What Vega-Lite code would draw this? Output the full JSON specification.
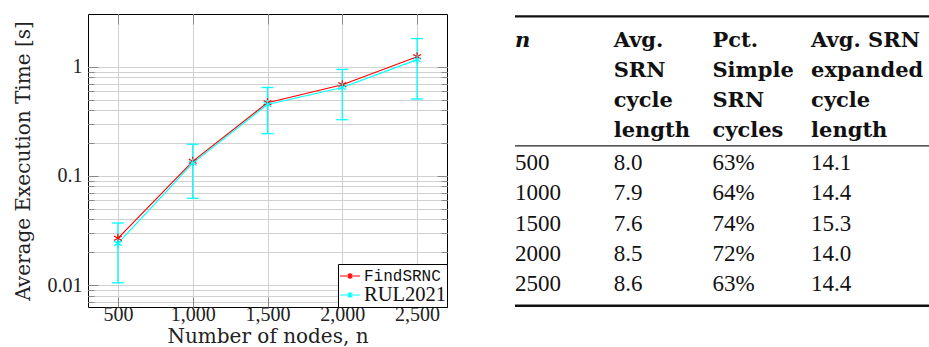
{
  "$schema": "https://vega.github.io/schema/vega-lite/v6.json",
  "background": "white",
  "padding": {"left": 12, "top": 13, "right": 0, "bottom": 2},
  "spacing": 65,
  "resolve": {"legend": {"color": "independent"}},
  "datasets": {
    "perf": [
      {"n": 500, "method": "FindSRNC", "time": 0.0268},
      {"n": 1000, "method": "FindSRNC", "time": 0.136},
      {"n": 1500, "method": "FindSRNC", "time": 0.468},
      {"n": 2000, "method": "FindSRNC", "time": 0.684},
      {"n": 2500, "method": "FindSRNC", "time": 1.235},
      {"n": 500, "method": "RUL2021", "time": 0.0241},
      {"n": 1000, "method": "RUL2021", "time": 0.131},
      {"n": 1500, "method": "RUL2021", "time": 0.451},
      {"n": 2000, "method": "RUL2021", "time": 0.645},
      {"n": 2500, "method": "RUL2021", "time": 1.16}
    ],
    "err": [
      {"n": 500, "lo": 0.0105, "hi": 0.037},
      {"n": 1000, "lo": 0.0624, "hi": 0.195},
      {"n": 1500, "lo": 0.244, "hi": 0.645},
      {"n": 2000, "lo": 0.327, "hi": 0.945},
      {"n": 2500, "lo": 0.506, "hi": 1.81}
    ],
    "cells": [
      {"col": 0, "line": 0, "text": "n", "kind": "n"},
      {"col": 1, "line": 0, "text": "Avg.", "kind": "head"},
      {"col": 1, "line": 1, "text": "SRN", "kind": "head"},
      {"col": 1, "line": 2, "text": "cycle", "kind": "head"},
      {"col": 1, "line": 3, "text": "length", "kind": "head"},
      {"col": 2, "line": 0, "text": "Pct.", "kind": "head"},
      {"col": 2, "line": 1, "text": "Simple", "kind": "head"},
      {"col": 2, "line": 2, "text": "SRN", "kind": "head"},
      {"col": 2, "line": 3, "text": "cycles", "kind": "head"},
      {"col": 3, "line": 0, "text": "Avg. SRN", "kind": "head"},
      {"col": 3, "line": 1, "text": "expanded", "kind": "head"},
      {"col": 3, "line": 2, "text": "cycle", "kind": "head"},
      {"col": 3, "line": 3, "text": "length", "kind": "head"},
      {"col": 0, "line": 4, "text": "500", "kind": "cell"},
      {"col": 1, "line": 4, "text": "8.0", "kind": "cell"},
      {"col": 2, "line": 4, "text": "63%", "kind": "cell"},
      {"col": 3, "line": 4, "text": "14.1", "kind": "cell"},
      {"col": 0, "line": 5, "text": "1000", "kind": "cell"},
      {"col": 1, "line": 5, "text": "7.9", "kind": "cell"},
      {"col": 2, "line": 5, "text": "64%", "kind": "cell"},
      {"col": 3, "line": 5, "text": "14.4", "kind": "cell"},
      {"col": 0, "line": 6, "text": "1500", "kind": "cell"},
      {"col": 1, "line": 6, "text": "7.6", "kind": "cell"},
      {"col": 2, "line": 6, "text": "74%", "kind": "cell"},
      {"col": 3, "line": 6, "text": "15.3", "kind": "cell"},
      {"col": 0, "line": 7, "text": "2000", "kind": "cell"},
      {"col": 1, "line": 7, "text": "8.5", "kind": "cell"},
      {"col": 2, "line": 7, "text": "72%", "kind": "cell"},
      {"col": 3, "line": 7, "text": "14.0", "kind": "cell"},
      {"col": 0, "line": 8, "text": "2500", "kind": "cell"},
      {"col": 1, "line": 8, "text": "8.6", "kind": "cell"},
      {"col": 2, "line": 8, "text": "63%", "kind": "cell"},
      {"col": 3, "line": 8, "text": "14.4", "kind": "cell"}
    ]
  },
  "hconcat": [
    {
      "width": 359,
      "height": 293,
      "layer": [
        {
          "data": {"name": "err"},
          "mark": {"type": "rule", "color": "#00ffff", "strokeWidth": 1.3},
          "encoding": {
            "x": {"field": "n", "type": "quantitative",
              "scale": {"domain": [300, 2700], "nice": false, "zero": false},
              "axis": {"orient": "bottom", "title": "Number of nodes, n", "values": [500, 1000, 1500, 2000, 2500], "format": ",.0f", "tickSize": -10, "labelPadding": 7, "grid": true, "gridColor": "#d0d0d0", "titlePadding": 2, "labelFlush": false}},
            "y": {"field": "lo", "type": "quantitative",
              "scale": {"type": "log", "domain": [0.0063, 3.04], "nice": false},
              "axis": {"orient": "left", "title": "Average Execution Time [s]",
                "values": [0.007, 0.008, 0.009, 0.01, 0.02, 0.03, 0.04, 0.05, 0.06, 0.07, 0.08, 0.09, 0.1, 0.2, 0.3, 0.4, 0.5, 0.6, 0.7, 0.8, 0.9, 1],
                "labelExpr": "datum.value == 1 ? '1' : datum.value == 0.1 ? '0.1' : datum.value == 0.01 ? '0.01' : ''",
                "labelOverlap": false, "labelFlush": false,
                "tickSize": {"condition": {"test": "datum.value == 1 || datum.value == 0.1 || datum.value == 0.01", "value": -10}, "value": -6},
                "labelPadding": 16, "grid": true, "gridColor": "#d0d0d0", "titlePadding": 14}},
            "y2": {"field": "hi"}
          }
        },
        {
          "data": {"name": "err"},
          "mark": {"type": "point", "shape": "M-1,0H1", "size": 144, "filled": false, "color": "#00ffff", "strokeWidth": 1.3, "opacity": 1},
          "encoding": {
            "x": {"field": "n", "type": "quantitative", "scale": {"domain": [300, 2700], "nice": false, "zero": false}, "axis": null},
            "y": {"field": "lo", "type": "quantitative", "scale": {"type": "log", "domain": [0.0063, 3.04], "nice": false}, "axis": null}
          }
        },
        {
          "data": {"name": "err"},
          "mark": {"type": "point", "shape": "M-1,0H1", "size": 144, "filled": false, "color": "#00ffff", "strokeWidth": 1.3, "opacity": 1},
          "encoding": {
            "x": {"field": "n", "type": "quantitative", "scale": {"domain": [300, 2700], "nice": false, "zero": false}, "axis": null},
            "y": {"field": "hi", "type": "quantitative", "scale": {"type": "log", "domain": [0.0063, 3.04], "nice": false}, "axis": null}
          }
        },
        {
          "data": {"name": "perf"},
          "mark": {"type": "line", "strokeWidth": 1.2},
          "encoding": {
            "x": {"field": "n", "type": "quantitative", "scale": {"domain": [300, 2700], "nice": false, "zero": false}, "axis": null},
            "y": {"field": "time", "type": "quantitative", "scale": {"type": "log", "domain": [0.0063, 3.04], "nice": false},
              "axis": {"orient": "right", "title": null, "labels": false, "grid": false,
                "values": [0.007, 0.008, 0.009, 0.01, 0.02, 0.03, 0.04, 0.05, 0.06, 0.07, 0.08, 0.09, 0.1, 0.2, 0.3, 0.4, 0.5, 0.6, 0.7, 0.8, 0.9, 1],
                "tickSize": {"condition": {"test": "datum.value == 1 || datum.value == 0.1 || datum.value == 0.01", "value": -10}, "value": -6}}},
            "color": {"field": "method", "type": "nominal",
              "scale": {"domain": ["FindSRNC", "RUL2021"], "range": ["#ff0000", "#00ffff"]},
              "legend": {"title": null, "orient": "bottom-right", "offset": 0, "padding": 1,
                "strokeColor": "#000", "fillColor": "#fff", "cornerRadius": 0,
                "symbolType": "M-1,0H1M-0.22,-0.22L0.22,0.22M-0.22,0.22L0.22,-0.22M0,-0.3V0.3",
                "symbolSize": 400, "symbolStrokeWidth": 1.2, "symbolFillColor": "transparent",
                "labelFont": "Liberation Mono", "labelFontSize": 16, "labelColor": "#111", "labelOffset": 3, "rowPadding": 0,
                "encode": {"labels": {"update": {
                  "font": {"signal": "datum.label == 'FindSRNC' ? 'Liberation Mono' : 'Liberation Serif'"},
                  "fontSize": {"signal": "datum.label == 'FindSRNC' ? 16 : 20.5"}}}}}}
          }
        },
        {
          "data": {"name": "perf"},
          "mark": {"type": "point", "shape": "M0,-1V1M-0.866,-0.5L0.866,0.5M-0.866,0.5L0.866,-0.5", "size": 81, "filled": false, "strokeWidth": 1.2, "opacity": 1},
          "encoding": {
            "x": {"field": "n", "type": "quantitative", "scale": {"domain": [300, 2700], "nice": false, "zero": false},
              "axis": {"orient": "top", "title": null, "labels": false, "grid": false, "values": [500, 1000, 1500, 2000, 2500], "tickSize": -10}},
            "y": {"field": "time", "type": "quantitative", "scale": {"type": "log", "domain": [0.0063, 3.04], "nice": false}, "axis": null},
            "color": {"field": "method", "type": "nominal", "scale": {"domain": ["FindSRNC", "RUL2021"], "range": ["#ff0000", "#00ffff"]}}
          }
        }
      ],
      "resolve": {"axis": {"x": "independent", "y": "independent"}}
    },
    {
      "width": 417,
      "height": 293,
      "view": {"stroke": null},
      "data": {"name": "cells"},
      "layer": [
        {
          "data": {"values": [{}]},
          "mark": {"type": "rule", "strokeWidth": 2.4, "color": "#111"},
          "encoding": {
            "x": {"datum": 0, "type": "quantitative", "scale": {"domain": [0, 4.225]}, "axis": null},
            "x2": {"datum": 4.225},
            "y": {"datum": -1, "type": "quantitative", "scale": {"domain": [-1.08, 8.61], "reverse": true}, "axis": null}
          }
        },
        {
          "data": {"values": [{}]},
          "mark": {"type": "rule", "strokeWidth": 2.4, "color": "#111"},
          "encoding": {
            "x": {"datum": 0, "type": "quantitative", "scale": {"domain": [0, 4.225]}, "axis": null},
            "x2": {"datum": 4.225},
            "y": {"datum": 8.57, "type": "quantitative", "scale": {"domain": [-1.08, 8.61], "reverse": true}, "axis": null}
          }
        },
        {
          "data": {"values": [{}]},
          "mark": {"type": "rule", "strokeWidth": 1.3, "color": "#222"},
          "encoding": {
            "x": {"datum": 0, "type": "quantitative", "scale": {"domain": [0, 4.225]}, "axis": null},
            "x2": {"datum": 4.225},
            "y": {"datum": 3.28, "type": "quantitative", "scale": {"domain": [-1.08, 8.61], "reverse": true}, "axis": null}
          }
        },
        {
          "transform": [{"filter": "datum.kind == 'n'"}],
          "mark": {"type": "text", "align": "left", "baseline": "alphabetic", "font": "DejaVu Serif", "fontWeight": "bold", "fontStyle": "italic", "fontSize": 21, "color": "#111", "clip": true},
          "encoding": {
            "x": {"field": "col", "type": "quantitative", "scale": {"domain": [0, 4.225]}, "axis": null},
            "y": {"field": "line", "type": "quantitative", "scale": {"domain": [-1.08, 8.61], "reverse": true}, "axis": null},
            "text": {"field": "text"}
          }
        },
        {
          "transform": [{"filter": "datum.kind == 'head'"}],
          "mark": {"type": "text", "align": "left", "baseline": "alphabetic", "font": "DejaVu Serif", "fontWeight": "bold", "fontSize": 21, "color": "#111", "clip": true},
          "encoding": {
            "x": {"field": "col", "type": "quantitative", "scale": {"domain": [0, 4.225]}, "axis": null},
            "y": {"field": "line", "type": "quantitative", "scale": {"domain": [-1.08, 8.61], "reverse": true}, "axis": null},
            "text": {"field": "text"}
          }
        },
        {
          "transform": [{"filter": "datum.kind == 'cell'"}],
          "mark": {"type": "text", "align": "left", "baseline": "alphabetic", "font": "Liberation Serif", "fontSize": 23, "yOffset": 2.5, "color": "#111", "clip": true},
          "encoding": {
            "x": {"field": "col", "type": "quantitative", "scale": {"domain": [0, 4.225]}, "axis": null},
            "y": {"field": "line", "type": "quantitative", "scale": {"domain": [-1.08, 8.61], "reverse": true}, "axis": null},
            "text": {"field": "text"}
          }
        }
      ]
    }
  ],
  "config": {
    "view": {"stroke": "#000", "strokeWidth": 1},
    "axis": {
      "domain": false,
      "labelFont": "Liberation Serif", "labelFontSize": 20, "labelColor": "#222",
      "titleFont": "DejaVu Serif", "titleFontSize": 20, "titleFontWeight": "normal", "titleColor": "#222",
      "tickColor": "#888", "tickWidth": 1
    }
  }
}
